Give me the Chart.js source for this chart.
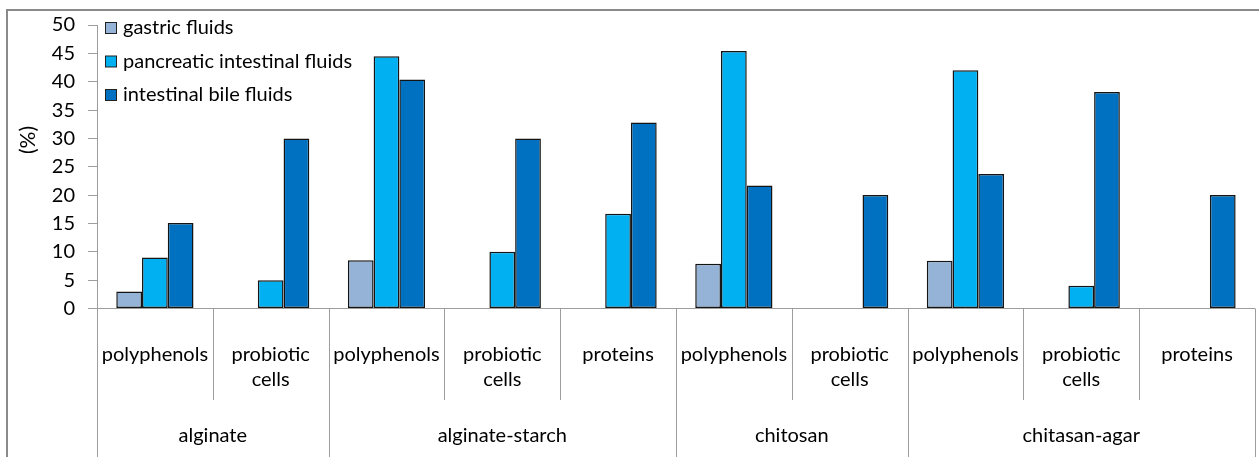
<!DOCTYPE html>
<html>
<head>
<meta charset="utf-8">
<script src="https://cdn.jsdelivr.net/npm/chart.js@4/dist/chart.umd.min.js"></script>
<style>
	html, body { margin: 0; padding: 0; background: #fff; }
	canvas { display: block; }
</style>
</head>
<body>
<canvas id="fluidChart" width="1259" height="457"></canvas>
<script>
// Sub categories (x ticks), in order
var SUB_CATEGORIES = ['polyphenols', ['probiotic', 'cells'], 'polyphenols', ['probiotic', 'cells'], 'proteins',
	'polyphenols', ['probiotic', 'cells'], 'polyphenols', ['probiotic', 'cells'], 'proteins'];
// Main groups and how many sub categories each one spans
var GROUP_NAMES = ['alginate', 'alginate-starch', 'chitosan', 'chitasan-agar'];
var GROUP_SIZES = [2, 3, 2, 3];

var SERIES_NAMES = ['gastric fluids', 'pancreatic intestinal fluids', 'intestinal bile fluids'];
var GASTRIC = [3, null, 8.5, null, null, 7.9, null, 8.4, null, null];
var PANCREATIC = [9, 5, 44.5, 10, 16.7, 45.4, null, 42, 4, null];
var BILE = [15.1, 30, 40.4, 30, 32.8, 21.7, 20, 23.7, 38.2, 20];

var Y_TICKS = [0, 5, 10, 15, 20, 25, 30, 35, 40, 45, 50];
var Y_TITLE = '(%)';

var FONT = 'Lato';
var AXIS_GREY = '#9d9d9d';
var COLORS = ['#95b3d7', '#00b0f0', '#0070c0'];

// Frame, y title, legend, group labels and category separators
var excelAxisPlugin = {
	id: 'excelAxis',
	beforeDraw: function (chart) {
		var ctx = chart.ctx;
		ctx.save();
		ctx.strokeStyle = '#8a8a8a';
		ctx.lineWidth = 2;
		ctx.beginPath();
		ctx.moveTo(7, 457);
		ctx.lineTo(7, 10);
		ctx.lineTo(1259, 10);
		ctx.stroke();
		ctx.restore();
	},
	afterDraw: function (chart) {
		var ctx = chart.ctx;
		var x = chart.scales.x;
		var area = chart.chartArea;
		var half = (x.getPixelForValue(1) - x.getPixelForValue(0)) / 2;
		var bottom = chart.height;

		ctx.save();
		ctx.strokeStyle = AXIS_GREY;
		ctx.lineWidth = 1;

		// Separators between sub categories, longer ones between groups
		var groupEnds = [];
		var acc = 0;
		GROUP_SIZES.forEach(function (n) { acc += n; groupEnds.push(acc); });
		for (var i = 0; i <= SUB_CATEGORIES.length; i++) {
			var px = Math.round(x.getPixelForValue(i) - half) + 0.5;
			var isGroup = i === 0 || groupEnds.indexOf(i) !== -1;
			ctx.beginPath();
			ctx.moveTo(px, area.bottom);
			ctx.lineTo(px, isGroup ? bottom : 400);
			ctx.stroke();
		}

		// Group labels
		ctx.fillStyle = '#000';
		ctx.font = '20px ' + FONT;
		ctx.textAlign = 'center';
		ctx.textBaseline = 'middle';
		var start = 0;
		GROUP_NAMES.forEach(function (name, g) {
			var end = start + GROUP_SIZES[g] - 1;
			var cx = (x.getPixelForValue(start) + x.getPixelForValue(end)) / 2;
			ctx.fillText(name, cx, 436);
			start += GROUP_SIZES[g];
		});

		// Y title
		ctx.save();
		ctx.font = '21px ' + FONT;
		ctx.translate(28, 140);
		ctx.rotate(-Math.PI / 2);
		ctx.fillText(Y_TITLE, 0, 0);
		ctx.restore();

		// Legend inside plot, top left
		ctx.textAlign = 'left';
		chart.data.datasets.forEach(function (ds, k) {
			var cy = 28 + k * 33.5;
			ctx.fillStyle = ds.backgroundColor;
			ctx.fillRect(105.5, cy - 5.5, 11, 11);
			ctx.strokeStyle = '#222';
			ctx.strokeRect(105.5, cy - 5.5, 11, 11);
			ctx.fillStyle = '#000';
			ctx.font = '20px ' + FONT;
			ctx.fillText(ds.label, 123, cy);
		});
		ctx.restore();
	}
};

function buildDataset(label, data, color) {
	return {
		label: label,
		data: data,
		backgroundColor: color,
		borderColor: '#141414',
		borderWidth: 1.5,
		borderSkipped: false,
		categoryPercentage: 0.667,
		barPercentage: 1
	};
}

var ctx = document.getElementById('fluidChart');
var fluidChart = new Chart(ctx, {
	type: 'bar',
	data: {
		labels: SUB_CATEGORIES,
		datasets: [
			buildDataset(SERIES_NAMES[0], GASTRIC, COLORS[0]),
			buildDataset(SERIES_NAMES[1], PANCREATIC, COLORS[1]),
			buildDataset(SERIES_NAMES[2], BILE, COLORS[2])
		]
	},
	options: {
		responsive: false,
		animation: false,
		devicePixelRatio: 1,
		layout: {
			padding: { top: 14, right: 4, left: 0, bottom: 0 }
		},
		plugins: {
			legend: { display: false },
			tooltip: { enabled: false }
		},
		scales: {
			x: {
				grid: { display: false },
				border: { display: true, color: AXIS_GREY, width: 1 },
				ticks: {
					color: '#000',
					font: { family: FONT, size: 20, lineHeight: 1.25 },
					padding: 26,
					maxRotation: 0,
					autoSkip: false
				},
				afterFit: function (scale) { scale.height = 148.5; }
			},
			y: {
				min: 0,
				max: 50,
				afterBuildTicks: function (scale) {
					scale.ticks = Y_TICKS.map(function (v) { return { value: v }; });
				},
				grid: { drawOnChartArea: false, drawTicks: true, tickLength: 9, color: AXIS_GREY },
				border: { display: true, color: AXIS_GREY, width: 1 },
				ticks: {
					color: '#000',
					font: { family: FONT, size: 20 },
					padding: 13
				},
				afterFit: function (scale) { scale.width = 97; }
			}
		}
	},
	plugins: [excelAxisPlugin]
});
</script>
</body>
</html>
